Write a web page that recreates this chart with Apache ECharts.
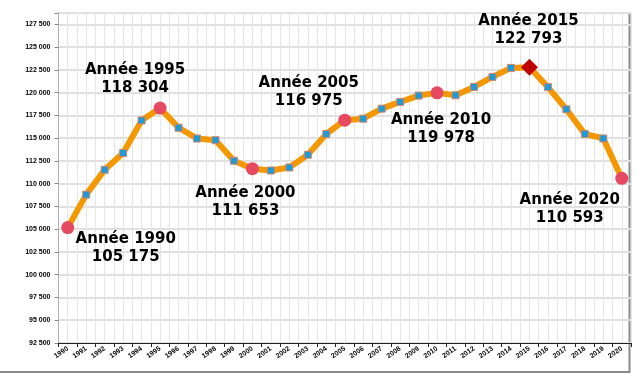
<!DOCTYPE html>
<html>
<head>
<meta charset="utf-8">
<script src="https://cdn.jsdelivr.net/npm/echarts@6/dist/echarts.min.js"></script>
<style>html,body{margin:0;padding:0;background:#fff}#c{width:637px;height:387px}</style>
</head>
<body>
<div id="c"></div>
<script>
const years = [1990,1991,1992,1993,1994,1995,1996,1997,1998,1999,2000,2001,2002,2003,2004,2005,2006,2007,2008,2009,2010,2011,2012,2013,2014,2015,2016,2017,2018,2019,2020];
const values = [105175,108800,111530,113370,116950,118304,116150,114960,114780,112520,111653,111450,111780,113180,115460,116975,117140,118240,118980,119680,119978,119710,120630,121730,122720,122793,120610,118170,115460,114970,110593];
const circleYears = [1990,1995,2000,2005,2010,2020];
const diamondYears = [2015];
const yMin = 92500, yMax = 128750, yStep = 2500;

const labelOffsets = {1990:[58,20],1995:[-25,-29],2000:[-7,33],2005:[-36,-28],2010:[4,36],2015:[-1,-37],2020:[-52,31]};
const fmt = v => String(v).replace(/\B(?=(\d{3})+(?!\d))/g, ' ');

const data = values.map((v, i) => {
  const yr = years[i];
  const item = { value: v };
  if (circleYears.includes(yr) || diamondYears.includes(yr)) {
    const isD = diamondYears.includes(yr);
    item.symbol = isD ? 'diamond' : 'circle';
    item.symbolSize = isD ? 17 : 13;
    item.itemStyle = { color: isD ? '#c00000' : '#e64a62', borderWidth: 0 };
    item.label = {
      show: true, position: 'inside', offset: labelOffsets[yr],
      formatter: 'Année ' + yr + '\n' + fmt(v),
      fontFamily: 'DejaVu Sans', fontWeight: 'bold', fontSize: 15, lineHeight: 18,
      color: '#000', align: 'center'
    };
  }
  return item;
});

const chart = echarts.init(document.getElementById('c'), null, { renderer: 'canvas' });
chart.setOption({
  animation: false,
  backgroundColor: '#fff',
  grid: { left: 58.5, right: 6, top: 13, bottom: 44 },
  xAxis: [{
    type: 'category', data: years.map(String), boundaryGap: true,
    axisLine: { lineStyle: { color: '#222', width: 1 } },
    axisTick: { show: true, length: 4, lineStyle: { color: '#222' } },
    axisLabel: { interval: 0, rotate: 35, margin: 5, fontFamily: 'Liberation Sans', fontWeight: 'bold', fontSize: 7, color: '#000' },
    splitLine: { show: true, interval: 0, lineStyle: { color: '#cdcdcd', width: 1 } }
  }, {
    type: 'value', min: 0, max: 62, interval: 1, position: 'bottom',
    axisLine: { show: false }, axisTick: { show: false }, axisLabel: { show: false },
    splitLine: { show: true, lineStyle: { color: '#e6e6e6', width: 1 } }, z: 0
  }],
  yAxis: {
    type: 'value', min: yMin, max: yMax, interval: yStep,
    axisLine: { show: true, lineStyle: { color: '#b0b0b0' } },
    axisTick: { show: true, length: 4, lineStyle: { color: '#888' } },
    axisLabel: { margin: 8, fontFamily: 'Liberation Sans', fontWeight: 'bold', fontSize: 7, color: '#000',
      formatter: v => (v % yStep === 0 ? fmt(v) : '') },
    splitLine: { show: true, lineStyle: { color: '#e0e0e0', width: 2 } }
  },
  series: [{
    type: 'line', xAxisIndex: 0, data: data,
    symbol: 'rect', symbolSize: 7,
    lineStyle: { color: '#f39800', width: 6 },
    itemStyle: { color: '#1e9ad6', borderColor: '#d4866a', borderWidth: 1 },
    z: 5
  }],
  graphic: [{
    type: 'polyline', silent: true,
    shape: { points: [[629.5, 13], [629.5, 372], [0, 372]] },
    style: { stroke: '#8a8a8a', lineWidth: 2, fill: null }
  }]
});
</script>
</body>
</html>
